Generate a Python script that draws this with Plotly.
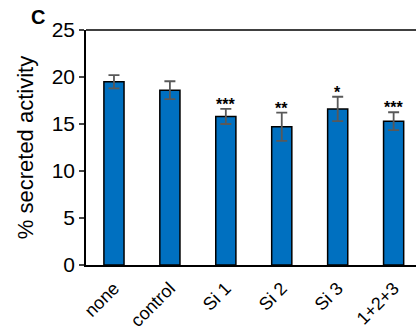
import plotly.graph_objects as go

# Secreted activity per treatment (mean ± SD) and significance marks
conditions = ["none", "control", "Si 1", "Si 2", "Si 3", "1+2+3"]
secreted = [19.5, 18.6, 15.8, 14.7, 16.6, 15.3]
sd = [0.7, 0.95, 0.8, 1.5, 1.3, 0.95]
stars = ["", "", "***", "**", "*", "***"]
y_ticks = [0, 5, 10, 15, 20, 25]

FONT = "Liberation Sans, Arial, sans-serif"

fig = go.Figure()
fig.add_trace(go.Bar(
    x=list(range(len(conditions))),
    y=secreted,
    width=0.36,
    marker=dict(color="#0070C0", line=dict(color="black", width=1.5)),
    error_y=dict(type="data", array=sd, visible=True,
                 color="#595959", thickness=1.8, width=5.5),
    showlegend=False,
))

for i, (v, e, s) in enumerate(zip(secreted, sd, stars)):
    if s:
        fig.add_annotation(x=i, y=v + e, text="<b>" + s + "</b>", showarrow=False,
                           yanchor="bottom", yshift=-6,
                           font=dict(family=FONT, size=16, color="black"))

# panel letter
fig.add_annotation(x=-0.145, y=1.055, xref="paper", yref="paper", xanchor="center",
                   yanchor="middle", text="<b>C</b>", showarrow=False,
                   font=dict(family=FONT, size=20, color="black"))

# top border of the plot box
fig.add_shape(type="line", xref="paper", yref="paper", x0=0, x1=1, y0=1, y1=1,
              line=dict(color="black", width=1.5))

fig.update_layout(
    width=416, height=335,
    margin=dict(l=86, r=0, t=30, b=70),
    plot_bgcolor="white", paper_bgcolor="white",
    font=dict(family=FONT, color="black"),
    xaxis=dict(
        range=[-0.5, 5.4], automargin=False,
        tickmode="array", tickvals=list(range(len(conditions))), ticktext=conditions,
        tickangle=-45, ticks="outside", ticklen=4, tickcolor="rgba(0,0,0,0)",
        showline=True, linecolor="black", linewidth=1.5,
        showgrid=False, zeroline=False, tickfont=dict(family=FONT, size=18),
    ),
    yaxis=dict(
        range=[0, 25], tickvals=y_ticks, ticks="outside", ticklen=5, tickwidth=1.5,
        showline=True, linecolor="black", linewidth=1.5, showgrid=False,
        zeroline=False, tickfont=dict(family=FONT, size=21), automargin=False,
        title=dict(text="% secreted activity", font=dict(family=FONT, size=22),
                   standoff=12),
    ),
)

fig.write_html("out.html")
